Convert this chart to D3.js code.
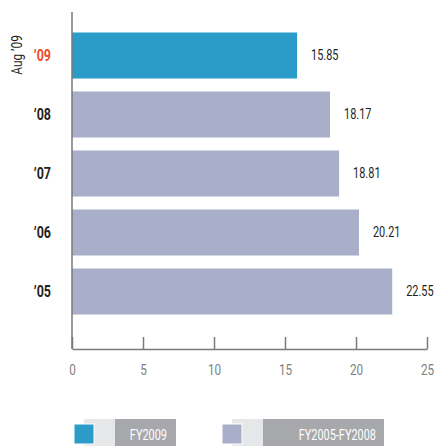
<!DOCTYPE html>
<html>
<head>
<meta charset="utf-8">
<script src="https://cdn.jsdelivr.net/npm/d3@7"></script>
<style>
  html, body { margin: 0; padding: 0; background: #fff; }
  svg { display: block; font-family: "Roboto", "Liberation Sans", sans-serif; }
</style>
</head>
<body>
<svg id="chart" width="437" height="446"></svg>
<script>
// Yearly values, most recent first (top row)
const years = ["\u201909", "\u201908", "\u201907", "\u201906", "\u201905"];
const values = [15.85, 18.17, 18.81, 20.21, 22.55];
const series = ["FY2009", "FY2005-FY2008", "FY2005-FY2008", "FY2005-FY2008", "FY2005-FY2008"];
const xTicks = [0, 5, 10, 15, 20, 25];
const legendItems = ["FY2009", "FY2005-FY2008"];
const sideNote = "Aug \u201909";

const colors = { "FY2009": "#2b9bc8", "FY2005-FY2008": "#a9afc9" };
const SQUEEZE = 0.78; // horizontal compression for a condensed look

const svg = d3.select("#chart");

// Places a horizontally condensed text at (px, py)
function condensed(parent, px, py, str, opts) {
  const g = parent.append("g").attr("transform", `translate(${px},${py}) scale(${SQUEEZE},1)`);
  return g.append("text")
    .attr("dy", "0.35em")
    .attr("text-anchor", opts.anchor || "start")
    .attr("font-size", opts.size || 14)
    .attr("font-weight", opts.weight || "normal")
    .attr("fill", opts.fill || "#231f20")
    .text(str);
}

const x = d3.scaleLinear().domain([0, 25]).range([72, 427]);
const y = d3.scaleBand().domain(years).range([26, 321]).paddingInner(0.22).paddingOuter(0.11);

// Bars
svg.append("g").selectAll("rect")
  .data(years)
  .join("rect")
  .attr("x", x(0))
  .attr("y", d => y(d))
  .attr("width", (d, i) => x(values[i]) - x(0))
  .attr("height", y.bandwidth())
  .attr("fill", (d, i) => colors[series[i]]);

// Value labels and year labels
const labels = svg.append("g");
years.forEach((yr, i) => {
  const cy = y(yr) + y.bandwidth() / 2;
  condensed(labels, x(values[i]) + 14, cy, values[i].toFixed(2), { size: 14, fill: "#231f20" });
  condensed(labels, 51, cy, yr, { size: 16, weight: "bold", anchor: "end", fill: i === 0 ? "#ee4a2c" : "#231f20" });
});

// Rotated date note
svg.append("g")
  .attr("transform", "translate(17,55) rotate(-90) scale(0.85,1)")
  .append("text")
  .attr("text-anchor", "middle")
  .attr("dy", "0.35em")
  .attr("font-size", 14)
  .attr("fill", "#231f20")
  .text(sideNote);

// Vertical axis line
svg.append("line")
  .attr("x1", x(0)).attr("x2", x(0))
  .attr("y1", 12).attr("y2", 349)
  .attr("stroke", "#7a7a7c").attr("stroke-width", 1.5);

// Bottom axis with ticks pointing up
const xAxis = d3.axisBottom(x).tickValues(xTicks).tickSizeInner(-12).tickSizeOuter(0).tickPadding(15);
const gx = svg.append("g").attr("transform", "translate(0,349)").call(xAxis);
gx.select(".domain").attr("stroke", "#7a7a7c").attr("stroke-width", 1.5);
gx.selectAll(".tick line").attr("stroke", "#7a7a7c").attr("stroke-width", 1.5);
gx.selectAll(".tick text")
  .attr("font-size", 15)
  .attr("font-family", "Roboto, sans-serif")
  .attr("fill", "#808082")
  .attr("transform", `scale(${SQUEEZE},1)`)
  .attr("x", 0);
// keep each tick label centred under its tick after the squeeze
gx.selectAll(".tick").each(function () {
  d3.select(this).select("text").attr("text-anchor", "middle");
});

// Legend
const legendX = [74, 222];
const legendTextEnd = [167, 376];
const legendBoxEnd = [176, 384];
legendItems.forEach((name, i) => {
  const g = svg.append("g");
  const x0 = legendX[i];
  g.append("rect").attr("x", x0 + 10).attr("y", 419).attr("width", 31).attr("height", 27).attr("fill", "#e6e7e9");
  g.append("rect").attr("x", x0 + 41).attr("y", 419).attr("width", legendBoxEnd[i] - x0 - 41).attr("height", 27).attr("fill", "#a7a8ab");
  g.append("rect").attr("x", x0).attr("y", 424).attr("width", 20).attr("height", 20)
    .attr("fill", colors[name]).attr("stroke", "#fff").attr("stroke-width", 1);
  condensed(g, legendTextEnd[i], 435, name, { size: 14, anchor: "end", fill: "#fff" });
});
</script>
</body>
</html>
